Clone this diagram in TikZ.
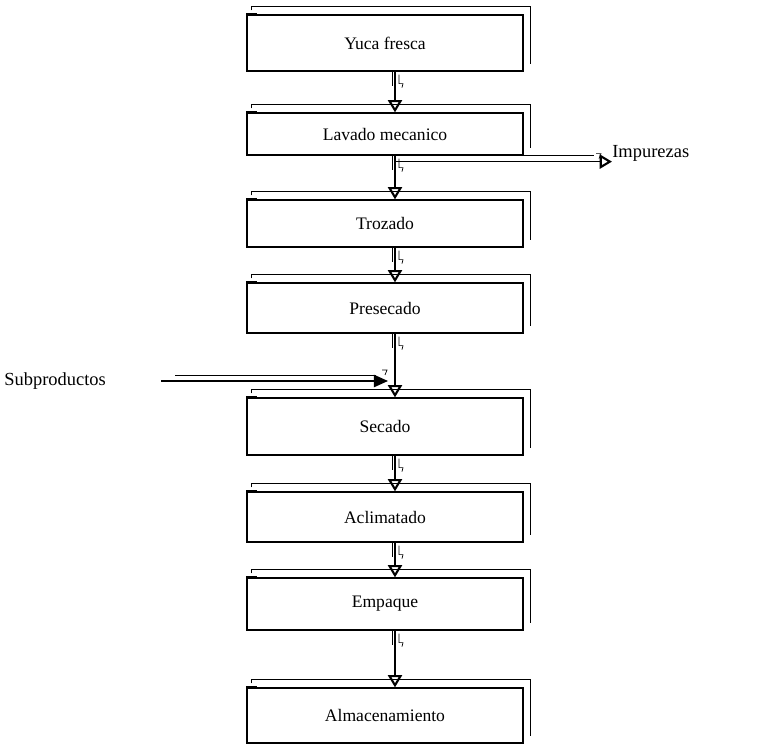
\documentclass[tikz,border=0pt]{standalone}
\usepackage{fontspec}
\setmainfont{Liberation Serif}
\usetikzlibrary{arrows.meta}
\tikzset{
  paso/.style={draw, line width=0.7pt, minimum width=5.52cm, inner sep=0pt, font=\fontsize{10}{12}\selectfont},
  marco/.style={line width=0.6pt},
  flecha/.style={line width=0.8pt, -{Triangle[open, length=7pt, width=8pt, line width=1.2pt]}},
  lleno/.style={line width=0.8pt, -{Triangle[length=8pt, width=7pt]}},
  rayo/.style={line width=0.4pt},
  rotulo/.style={inner sep=0pt, font=\fontsize{10.5}{12}\selectfont}
}
\begin{document}
\begin{tikzpicture}[x=0.02cm, y=-0.02cm]
\useasboundingbox (0,0) rectangle (778,746);
\foreach \n/\y/\h/\txt in {b1/43/56/Yuca fresca, b2/134/42/Lavado mecanico, b3/223.5/47/Trozado, b4/308/50/Presecado, b5/426.5/57/Secado, b6/517/50/Aclimatado, b7/604/52/Empaque, b8/715.5/55/Almacenamiento}{
\node[paso, minimum height=\h*0.02cm] (\n) at (385,\y) {\txt};
\draw[marco] ([shift={(5,-4)}]\n.north west) -- ++(0,-4) -| ([shift={(7,-8)}]\n.south east);
\draw[line width=1.2pt] ([shift={(1,6)}]\n.north west) -- ++(0,-6) -- ++(10,0);
}
\foreach \a/\b in {b1/b2, b2/b3, b3/b4, b4/b5, b5/b6, b6/b7, b7/b8}{
\draw[flecha] ([shift={(10,0)}]\a.south) -- ([shift={(10,0)}]\b.north);
\draw[rayo] ([shift={(7,0)}]\a.south) -- ++(0,14);
\draw[rayo] ([shift={(14,3)}]\a.south) -- ++(0,9) -- ++(4,0) -- ++(-1,4);
}
\node[rotulo, anchor=west] (imp) at (612,153) {Impurezas};
\coordinate (salida) at ([shift={(10,6)}]b2.south);
\draw[flecha] (salida) -- (salida -| imp.west);
\draw[rayo] ([shift={(8,-6)}]salida) -- ([shift={(-18,-6)}]salida -| imp.west);
\draw[rayo] ([shift={(-16,-8)}]salida -| imp.west) -- ++(5,0) -- ++(-2,5);
\node[rotulo, anchor=west] (sub) at (4,381) {Subproductos};
\coordinate (entrada) at (388,381);
\draw[lleno, shorten <=1.1cm] (sub.east) -- (entrada);
\draw[rayo] (175,375) -- (376,375);
\draw[rayo] (382,370) -- ++(5,0) -- ++(-2,5);
\end{tikzpicture}
\end{document}
